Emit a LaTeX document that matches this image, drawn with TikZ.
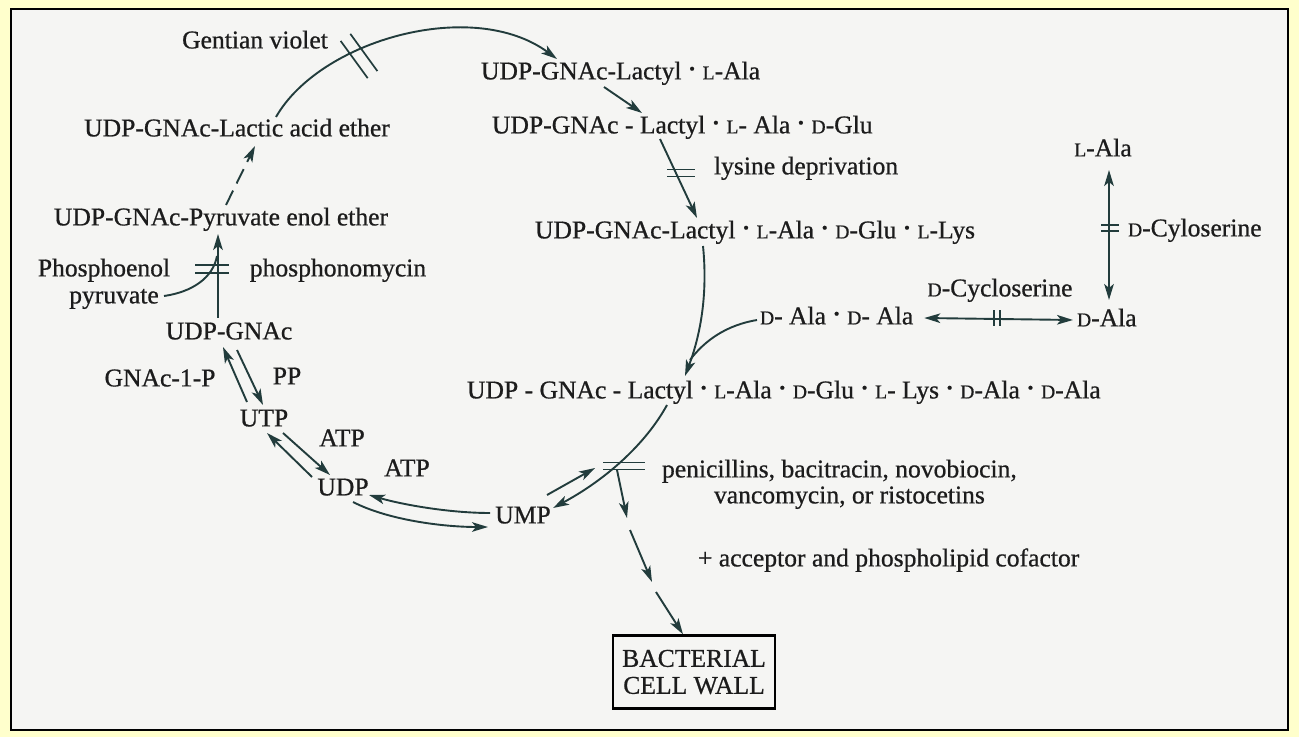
\documentclass[tikz,border=0pt]{standalone}
\usepackage{fontspec}
\setmainfont{Liberation Serif}[FakeBold=0.7]
\usetikzlibrary{arrows.meta,calc}
\definecolor{bgyellow}{HTML}{FFFFCC}
\definecolor{paper}{HTML}{F5F5F3}
\definecolor{ink}{HTML}{1C1C1C}
\definecolor{lineink}{HTML}{223C3C}
\newcommand{\sm}[1]{{\fontsize{9.8pt}{10pt}\selectfont #1}}
\newcommand{\bu}{\hspace{0.3em}\raisebox{0.2em}{\scalebox{0.65}{\textbullet}}\hspace{0.3em}}
\tikzset{pics/hbar/.style args={#1/#2}{code={\draw[hashln] (-#1,-#2) -- (#1,-#2) (-#1,#2) -- (#1,#2);}}}
\begin{document}
\begin{tikzpicture}[x=0.5pt,y=-0.5pt,
  >={Stealth[length=8pt,width=4.8pt,inset=2pt]},
  txt/.style={font=\fontsize{12.8pt}{15pt}\selectfont, text=ink, inner sep=0pt, outer sep=0pt, text height=9pt, text depth=2.6pt},
  boxst/.style={font=\fontsize{12.8pt}{13.5pt}\selectfont, text=ink, draw=black, line width=1.2pt, align=center, minimum width=81pt, minimum height=36.5pt, inner sep=0pt},
  plain/.style={draw=lineink, line width=0.95pt},
  conn/.style={plain, ->},
  conn2/.style={plain, <->},
  hashln/.style={draw=lineink, line width=0.85pt}]
\useasboundingbox (0,0) rectangle (1299,737);
\fill[bgyellow] (0,0) rectangle (1299,737);
\filldraw[fill=paper, draw=black, line width=1pt] (11,9) rectangle (1288,730);

% left side nodes
\node[txt] (gv) at (255,42) {Gentian violet};
\node[txt] (lae) at (237,130) {UDP-GNAc-Lactic acid ether};
\node[txt] (pee) at (221,219) {UDP-GNAc-Pyruvate enol ether};
\node[txt] (phe) at (104,270) {Phosphoenol};
\node[txt] (pyr) at (114,297) {pyruvate};
\node[txt] (phm) at (338,270) {phosphonomycin};
\node[txt] (ug) at (229,333) {UDP-GNAc};
\node[txt] (g1p) at (160,380) {GNAc-1-P};
\node[txt] (pp) at (287,378) {PP};
\node[txt] (utp) at (264,420) {UTP};
\node[txt] (atp1) at (342,440) {ATP};
\node[txt] (udp) at (343,489) {UDP};
\node[txt] (atp2) at (407,470) {ATP};
\node[txt] (ump) at (523,517) {UMP};

% right side nodes
\node[txt, anchor=west] (r1) at (481,73) {UDP-GNAc-Lactyl\bu\sm{L}-Ala};
\node[txt, anchor=west] (r2) at (492,127) {UDP-GNAc - Lactyl\bu\sm{L}- Ala\bu\sm{D}-Glu};
\node[txt, anchor=west] (ld) at (714,168) {lysine deprivation};
\node[txt, anchor=west] (r3) at (535,232) {UDP-GNAc-Lactyl\bu\sm{L}-Ala\bu\sm{D}-Glu\bu\sm{L}-Lys};
\node[txt, anchor=west] (dd) at (760,318) {\sm{D}- Ala\bu\sm{D}- Ala};
\node[txt] (dcyc) at (1000,290) {\sm{D}-Cycloserine};
\node[txt, anchor=west] (dala) at (1077,320) {\sm{D}-Ala};
\node[txt] (lala) at (1103,150) {\sm{L}-Ala};
\node[txt, anchor=west] (dcyl) at (1128,230) {\sm{D}-Cyloserine};
\node[txt, anchor=west] (r4) at (467,392) {UDP - GNAc - Lactyl\bu\sm{L}-Ala\bu\sm{D}-Glu\bu\sm{L}- Lys\bu\sm{D}-Ala\bu\sm{D}-Ala};
\node[txt, anchor=west] (pen1) at (662,471) {penicillins, bacitracin, novobiocin,};
\node[txt, anchor=west] (pen2) at (714,497) {vancomycin, or ristocetins};
\node[txt, anchor=west] (acc) at (698,560) {+ acceptor and phospholipid cofactor};
\node[boxst] (box) at (694,672) {BACTERIAL\\CELL WALL};

% upper arc with Gentian violet block
\draw[conn] ($(lae)+(39,-13)$) .. controls +(44,-77) and +(-84,-62) .. ($(r1.west)+(76,-14)$);
\pic[rotate=-54] at ($(gv)+(104,14)$) {hbar=23/6};

% left column
\draw[conn, dash pattern=on 8pt off 4pt] ($(pee)+(5,-14)$) -- ($(lae)+(18,16)$);
\draw[conn] ($(ug)+(-11,-15)$) -- ($(pee)+(-3,15)$);
\pic at ($(ug)+(-17,-64)$) {hbar=17/4};
\draw[plain] ($(pyr)+(50,-1)$) .. controls +(28,-4) and +(-4,22) .. ($(ug)+(-12,-77)$);

\draw[conn] ($(utp)+(-17,-18)$) -- ($(ug)+(-6,14)$);
\draw[conn] ($(ug)+(8,17)$) -- ($(utp)+(-1,-15)$);
\draw[conn] ($(udp)+(-31,-12)$) -- ($(utp)+(3,13)$);
\draw[conn] ($(utp)+(19,13)$) -- ($(udp)+(-13,-14)$);
\draw[conn] ($(ump)+(-33,-4)$) .. controls +(-40,0) and +(35,10) .. ($(udp)+(26,6)$);
\draw[conn] ($(udp)+(10,13)$) .. controls +(35,18) and +(-45,0) .. ($(ump)+(-35,10)$);

% UMP and main curve
\draw[conn] ($(ump)+(24,-22)$) -- ($(ump)+(72,-49)$);
\draw[conn] ($(r4.west)+(200,13)$) .. controls +(-22,40) and +(52,-28) .. ($(ump)+(30,-9)$);
\pic at ($(ump)+(101,-51)$) {hbar=21/3.5};
\coordinate (pj) at ($(ump)+(94,-47)$);

% chain to cell wall
\draw[conn] (pj) -- ($(box)+(-67,-154)$);
\draw[conn] ($(box)+(-64,-142)$) -- ($(box)+(-42,-90)$);
\draw[conn] ($(box)+(-38,-80)$) -- ($(box.north)+(-11,0)$);

% right column
\draw[conn] ($(r1.west)+(123,14)$) -- ($(r2.west)+(150,-14)$);
\draw[conn] ($(r2.west)+(168,12)$) -- ($(r3.west)+(162,-14)$);
\pic at ($(ld.west)+(-33,5)$) {hbar=14/3.5};
\draw[conn] ($(r3.west)+(168,14)$) .. controls +(5,50) and +(15,-40) .. ($(r4.west)+(218,-16)$);
\draw[plain] ($(dd.west)+(-3,2)$) .. controls +(-30,5) and +(15,-20) .. ($(r4.west)+(223,-32)$);

\draw[conn2] ($(dd.east)+(11,0)$) -- ($(dala.west)+(-4,0)$);
\pic[rotate=90] at ($(dd.east)+(84,0)$) {hbar=8/3};
\draw[conn2] ($(lala)+(6,20)$) -- ($(dala.west)+(32,-20)$);
\pic at ($(lala)+(7,78)$) {hbar=9/3};
\end{tikzpicture}
\end{document}
